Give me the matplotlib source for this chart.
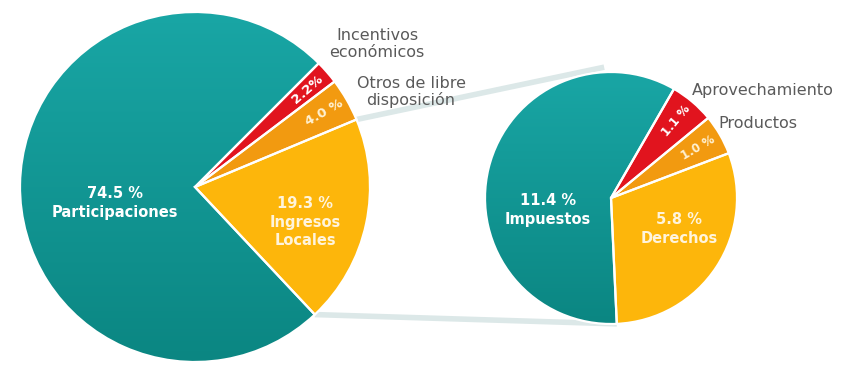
import numpy as np
import matplotlib
matplotlib.use("Agg")
import matplotlib.pyplot as plt
from matplotlib.patches import Wedge
from matplotlib.colors import LinearSegmentedColormap

# ---- data -------------------------------------------------------------
main_names = ["Incentivos\neconómicos", "Otros de libre\ndisposición",
              "Ingresos\nLocales", "Participaciones"]
main_values = [2.2, 4.0, 19.3, 74.5]
main_fmt = ["{:.1f}%", "{:.1f} %", "{:.1f} %", "{:.1f} %"]

sub_names = ["Aprovechamiento", "Productos", "Derechos", "Impuestos"]
sub_values = [1.1, 1.0, 5.8, 11.4]
sub_fmt = ["{:.1f} %", "{:.1f} %", "{:.1f} %", "{:.1f} %"]

# ---- style / layout ---------------------------------------------------
W, H = 847, 365
colors = ["#e1141e", "#f29a10", "#fdb60b", "#12999a"]
label_colors = ["white", "#fff1d2", "#fff4dc", "white"]
teal_top, teal_bottom = "#19a6a5", "#0b8682"
grey_text = "#5a5a5a"
link_color = "#dce8e8"
FONT = "DejaVu Sans"

main_center, main_r, main_start = (195, H - 187), 175, 45
sub_center, sub_r, sub_start = (611, H - 198), 126, 60

fig = plt.figure(figsize=(W / 100, H / 100), dpi=100)
ax = fig.add_axes([0, 0, 1, 1])


def draw_pie(values, center, radius, start):
    wedges, _ = ax.pie(values, colors=colors, startangle=start,
                       counterclock=False, center=center, radius=radius,
                       wedgeprops=dict(edgecolor="none", linewidth=0))
    for w in wedges:
        w.set_zorder(2)
    # soft vertical shading on the large teal slice
    teal = wedges[-1]
    cmap = LinearSegmentedColormap.from_list("teal", [teal_bottom, teal_top])
    grad = np.linspace(0, 1, 256)[:, None]
    cx, cy = center
    im = ax.imshow(grad, cmap=cmap, origin="lower", aspect="auto",
                   extent=(cx - radius, cx + radius, cy - radius, cy + radius),
                   zorder=2.5)
    im.set_clip_path(teal)
    # white separators between slices
    for w in wedges:
        ax.add_patch(Wedge(w.center, w.r, w.theta1, w.theta2, fill=False,
                           edgecolor="white", linewidth=1.6, zorder=3))
    return wedges


def polar(center, r, ang):
    a = np.deg2rad(ang)
    return center[0] + r * np.cos(a), center[1] + r * np.sin(a)


main_w = draw_pie(main_values, main_center, main_r, main_start)
sub_w = draw_pie(sub_values, sub_center, sub_r, sub_start)

# connector band between the "Ingresos Locales" slice and its breakdown
y_main = main_w[2]
p1 = polar(main_center, main_r, y_main.theta2)
q1 = polar(sub_center, sub_r + 5, 93)
p2 = polar(main_center, main_r, y_main.theta1)
q2 = polar(sub_center, sub_r, sub_w[2].theta1)
for p, q in ((p1, q1), (p2, q2)):
    ax.plot([p[0], q[0]], [p[1], q[1]], color=link_color, lw=4,
            solid_capstyle="butt", zorder=1)

# ---- labels -------------------------------------------------------------
def mid(w):
    return 0.5 * (w.theta1 + w.theta2)

# rotated value labels on the thin slices
for i in (0, 1):
    w = main_w[i]
    x, y = polar(main_center, main_r * 0.85, mid(w))
    ax.text(x, y, main_fmt[i].format(main_values[i]), rotation=mid(w),
            rotation_mode="anchor", ha="center", va="center",
            color=label_colors[i], fontsize=9.5, fontweight="bold",
            family=FONT, zorder=5)
    w = sub_w[i]
    x, y = polar(sub_center, sub_r * 0.8, mid(w))
    ax.text(x, y, sub_fmt[i].format(sub_values[i]), rotation=mid(w),
            rotation_mode="anchor", ha="center", va="center",
            color=label_colors[i], fontsize=8.5, fontweight="bold",
            family=FONT, zorder=5)

# value + name labels on the large slices (image-pixel anchors)
inside = [
    (main_values[3], main_fmt[3], main_names[3], (115, 203), label_colors[3]),
    (main_values[2], main_fmt[2], main_names[2], (305, 222), label_colors[2]),
    (sub_values[3], sub_fmt[3], sub_names[3], (548, 210), label_colors[3]),
    (sub_values[2], sub_fmt[2], sub_names[2], (679, 229), label_colors[2]),
]
for v, fmt, name, (x, y), c in inside:
    ax.text(x, H - y, fmt.format(v) + "\n" + name, ha="center", va="center",
            color=c, fontsize=10.5, fontweight="bold", family=FONT,
            linespacing=1.3, zorder=5)

# outside names of the thin slices
ax.text(377, H - 44, main_names[0], ha="center", va="center", color=grey_text,
        fontsize=11.5, family=FONT, linespacing=1.15, zorder=5)
ax.text(411, H - 92, main_names[1], ha="center", va="center", color=grey_text,
        fontsize=11.5, family=FONT, linespacing=1.15, zorder=5)
ax.text(692, H - 90, sub_names[0], ha="left", va="center", color=grey_text,
        fontsize=11.5, family=FONT, zorder=5)
ax.text(718, H - 124, sub_names[1], ha="left", va="center", color=grey_text,
        fontsize=11.5, family=FONT, zorder=5)

ax.set_xlim(0, W)
ax.set_ylim(0, H)
ax.set_aspect("equal")
ax.axis("off")

fig.savefig("out.png", dpi=100, facecolor="white")
